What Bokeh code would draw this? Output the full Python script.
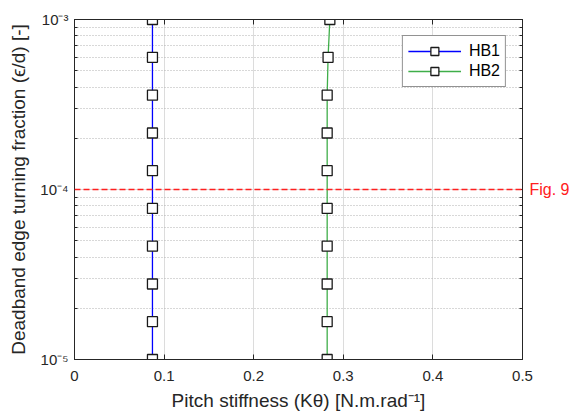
from bokeh.plotting import figure
from bokeh.models import (FixedTicker, CustomJSTickFormatter, LinearAxis, LogAxis,
                          Span, Legend, LegendItem, Range1d)
from bokeh.embed import file_html
from bokeh.resources import INLINE

# ---------------- data ----------------
fraction = [1e-5, 1.67e-5, 2.78e-5, 4.64e-5, 7.74e-5, 1.29e-4, 2.15e-4, 3.59e-4, 5.99e-4, 1e-3]
hb1_stiffness = [0.087, 0.087, 0.087, 0.087, 0.087, 0.087, 0.087, 0.087, 0.087, 0.087]
hb2_stiffness = [0.282, 0.282, 0.282, 0.282, 0.282, 0.282, 0.282, 0.282, 0.283, 0.285]
series_names = ["HB1", "HB2"]
x_ticks = [0, 0.1, 0.2, 0.3, 0.4, 0.5]
y_ticks = [1e-5, 1e-4, 1e-3]
y_minor_ticks = [2e-5, 3e-5, 4e-5, 5e-5, 6e-5, 7e-5, 8e-5, 9e-5,
                 2e-4, 3e-4, 4e-4, 5e-4, 6e-4, 7e-4, 8e-4, 9e-4]
ref_fraction = 1e-4
ref_text = "Fig. 9"
y_title = "Deadband edge turning fraction (\u03f5/d) [-]"
x_title = "Pitch stiffness (K\u03b8) [N.m.rad\u207b\u00b9]"

FONT = "Liberation Sans"
DARK = "#262626"
RED = "#ff2020"

p = figure(width=572, height=419,
           x_range=Range1d(0, 0.5), y_range=Range1d(1e-5, 1e-3),
           y_axis_type="log", output_backend="svg", toolbar_location=None,
           min_border_left=74, min_border_right=49, min_border_top=19, min_border_bottom=60)
p.outline_line_color = DARK
p.background_fill_color = "white"
p.border_fill_color = "white"

xt = FixedTicker(ticks=x_ticks, minor_ticks=[])
yt = FixedTicker(ticks=y_ticks, minor_ticks=y_minor_ticks)

# grids
p.xgrid.ticker = xt
p.ygrid.ticker = yt
p.xgrid.grid_line_color = "#dcdcdc"
p.ygrid.grid_line_color = "#dcdcdc"
p.ygrid.minor_grid_line_color = "#b0b0b0"
p.ygrid.minor_grid_line_dash = "1 2"

sup_js = """
const e = Math.round(Math.log10(tick));
const sup = {'-':'\u207b','0':'\u2070','1':'\u00b9','2':'\u00b2','3':'\u00b3','4':'\u2074',
             '5':'\u2075','6':'\u2076','7':'\u2077','8':'\u2078','9':'\u2079'};
return '10' + String(e).split('').map(c => sup[c]).join('');
"""

# x axis
xa = p.xaxis[0]
xa.ticker = xt
xa.major_tick_in = 5
xa.major_tick_out = 0
xa.minor_tick_in = 0
xa.minor_tick_out = 0
xa.major_label_standoff = 11
xa.major_label_text_font = FONT
xa.major_label_text_font_size = "15px"
xa.major_label_text_color = DARK
xa.axis_line_color = DARK
xa.major_tick_line_color = DARK
xa.axis_label = x_title
xa.axis_label_text_font = FONT
xa.axis_label_text_font_size = "19px"
xa.axis_label_text_font_style = "normal"
xa.axis_label_text_color = DARK
xa.axis_label_standoff = 6

# y axis
ya = p.yaxis[0]
ya.ticker = yt
ya.formatter = CustomJSTickFormatter(code=sup_js)
ya.major_tick_in = 5
ya.major_tick_out = 0
ya.minor_tick_in = 3
ya.minor_tick_out = 0
ya.major_label_standoff = 6
ya.major_label_text_font = FONT
ya.major_label_text_font_size = "15px"
ya.major_label_text_color = DARK
ya.axis_line_color = DARK
ya.major_tick_line_color = DARK
ya.minor_tick_line_color = DARK
ya.axis_label = y_title
ya.axis_label_text_font = FONT
ya.axis_label_text_font_size = "19px"
ya.axis_label_text_font_style = "normal"
ya.axis_label_text_color = DARK
ya.axis_label_standoff = 8

blank = "return '';"
top = LinearAxis(ticker=xt, formatter=CustomJSTickFormatter(code=blank),
                 major_tick_in=5, major_tick_out=0, minor_tick_in=0, minor_tick_out=0,
                 major_label_text_font_size="1px", major_label_standoff=0,
                 axis_line_color=DARK, major_tick_line_color=DARK)
p.add_layout(top, "above")

# right axis: ticks plus the red reference-line label
right_fmt = CustomJSTickFormatter(args=dict(ref=ref_fraction, label=ref_text), code="""
return Math.abs(Math.log10(tick) - Math.log10(ref)) < 1e-6 ? label : '';
""")
right = LogAxis(ticker=yt, formatter=right_fmt,
                major_tick_in=5, major_tick_out=0, minor_tick_in=3, minor_tick_out=0,
                major_label_text_font=FONT, major_label_text_font_size="16px",
                major_label_text_color=RED, major_label_standoff=7,
                axis_line_color=DARK, major_tick_line_color=DARK, minor_tick_line_color=DARK)
p.add_layout(right, "right")

# reference line
p.add_layout(Span(location=ref_fraction, dimension="width", line_color=RED,
                  line_dash="6 3", line_width=1.3))

# series
l1 = p.line(hb1_stiffness, fraction, line_color="#0000ff", line_width=1.3)
s1 = p.scatter(hb1_stiffness, fraction, marker="square", size=10, fill_color="white",
               line_color="#1a1a1a", line_width=1.3)
l2 = p.line(hb2_stiffness, fraction, line_color="#3fae49", line_width=1.3)
s2 = p.scatter(hb2_stiffness, fraction, marker="square", size=10, fill_color="white",
               line_color="#1a1a1a", line_width=1.3)

legend = Legend(items=[LegendItem(label=series_names[0], renderers=[l1, s1]),
                       LegendItem(label=series_names[1], renderers=[l2, s2])],
                location="top_right", margin=16, padding=5, spacing=0,
                glyph_width=53, glyph_height=20, label_height=20, label_standoff=8,
                label_text_font=FONT, label_text_font_size="16px", label_text_color="black",
                border_line_color=DARK, border_line_width=1, background_fill_alpha=1)
p.add_layout(legend)

open("out.html", "w").write(file_html(p, INLINE))
